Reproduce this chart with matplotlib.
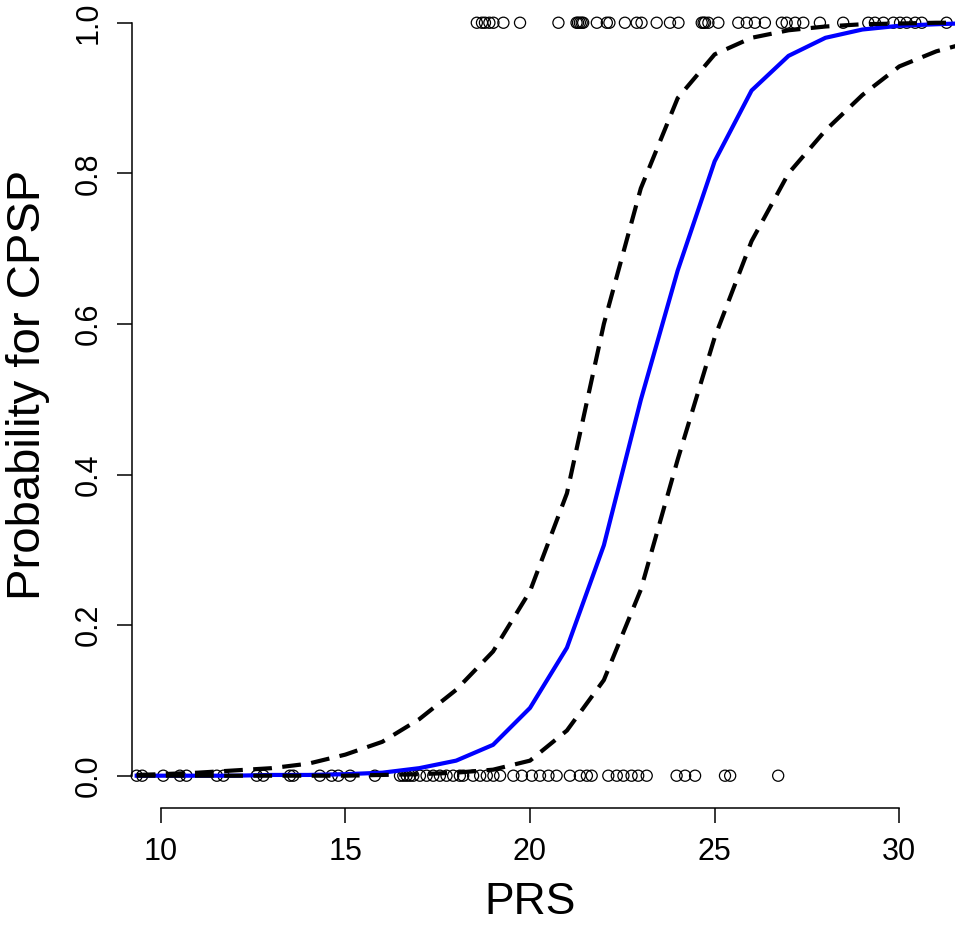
import matplotlib
matplotlib.use("Agg")
import matplotlib.pyplot as plt
import numpy as np

plt.rcParams['font.family'] = ['Liberation Sans', 'DejaVu Sans']

# Observed outcomes (PRS values) for CPSP = 1 and CPSP = 0
prs_yes = [18.56, 18.70, 18.78, 18.90, 19.01, 19.28, 19.73, 20.77, 21.26, 21.30, 21.35, 21.40,
           21.44, 21.81, 22.08, 22.15, 22.57, 22.89, 23.02, 23.43, 23.79, 24.02, 24.65, 24.70,
           24.74, 24.83, 25.10, 25.64, 25.87, 26.09, 26.36, 26.82, 26.95, 27.18, 27.40, 27.85,
           28.48, 29.16, 29.34, 29.57, 29.84, 30.02, 30.20, 30.43, 30.61, 31.28]
prs_no = [9.35, 9.50, 10.07, 10.52, 10.70, 11.52, 11.70, 12.60, 12.78, 13.50, 13.59, 14.31,
          14.63, 14.81, 15.13, 15.80, 16.48, 16.57, 16.66, 16.75, 16.84, 17.02, 17.20, 17.38,
          17.56, 17.74, 17.92, 18.10, 18.19, 18.46, 18.65, 18.83, 19.01, 19.19, 19.55, 19.78,
          20.05, 20.27, 20.50, 20.72, 21.08, 21.35, 21.54, 21.67, 22.12, 22.35, 22.53, 22.75,
          22.93, 23.16, 23.97, 24.20, 24.47, 25.28, 25.42, 26.72]

# Fitted probability and confidence bands, read at grid points
grid = [9.35, 10, 11, 12, 13, 14, 15, 16, 17, 18, 19, 20, 21, 22, 23, 24, 25, 26, 27, 28,
        29, 30, 31, 31.6]
fit = [0.000, 0.000, 0.000, 0.000, 0.001, 0.001, 0.002, 0.004, 0.010, 0.020, 0.041, 0.090,
       0.170, 0.306, 0.499, 0.671, 0.816, 0.910, 0.956, 0.980, 0.991, 0.996, 0.998, 0.999]
upper = [0.001, 0.002, 0.004, 0.007, 0.010, 0.016, 0.028, 0.045, 0.075, 0.114, 0.165, 0.245,
         0.375, 0.600, 0.780, 0.900, 0.958, 0.980, 0.990, 0.995, 0.998, 0.999, 1.000, 1.000]
lower = [0.000, 0.000, 0.000, 0.000, 0.000, 0.000, 0.000, 0.001, 0.002, 0.004, 0.008, 0.020,
         0.060, 0.127, 0.247, 0.420, 0.582, 0.710, 0.800, 0.857, 0.904, 0.942, 0.962, 0.970]

xticks = [10, 15, 20, 25, 30]
yticks = [0.0, 0.2, 0.4, 0.6, 0.8, 1.0]

fig = plt.figure(figsize=(9.55, 9.27), dpi=100)
W, H = 955, 927
ax = fig.add_axes([131.7 / W, (H - 808) / H, (W - 131.7) / W, 808 / H])
ax.set_xlim(9.215, 31.508)
ax.set_ylim(-0.0429, 1.0302)

ax.scatter(prs_yes, [1] * len(prs_yes), s=64, facecolors='none', edgecolors='black',
           linewidths=0.9, zorder=2, clip_on=False)
ax.scatter(prs_no, [0] * len(prs_no), s=64, facecolors='none', edgecolors='black',
           linewidths=0.9, zorder=2, clip_on=False)

ax.plot(grid, fit, color='#0000FF', lw=3, zorder=3)
ax.plot(grid, upper, color='black', lw=3, dashes=(4.5, 2.5), zorder=4)
ax.plot(grid, lower, color='black', lw=3, dashes=(4.5, 2.5), zorder=4)

for s in ['top', 'right']:
    ax.spines[s].set_visible(False)
ax.spines['left'].set_bounds(0, 1)
ax.spines['bottom'].set_bounds(10, 30)
ax.spines['left'].set_linewidth(1.1)
ax.spines['bottom'].set_linewidth(1.1)

ax.set_xticks(xticks)
ax.set_xticklabels([str(t) for t in xticks])
ax.set_yticks(yticks)
ax.set_yticklabels(['%.1f' % t for t in yticks], rotation=90, va='center')
ax.tick_params(axis='both', length=11, width=1.1, labelsize=22, color='black')
ax.tick_params(axis='x', pad=10)
ax.tick_params(axis='y', pad=9)

fig.text(530 / W, 1 - 903 / H, 'PRS', fontsize=32, ha='center', va='center')
fig.text(28 / W, 1 - 385 / H, 'Probability for CPSP', fontsize=34, ha='center',
         va='center', rotation=90)

fig.savefig('out.png', dpi=100)
